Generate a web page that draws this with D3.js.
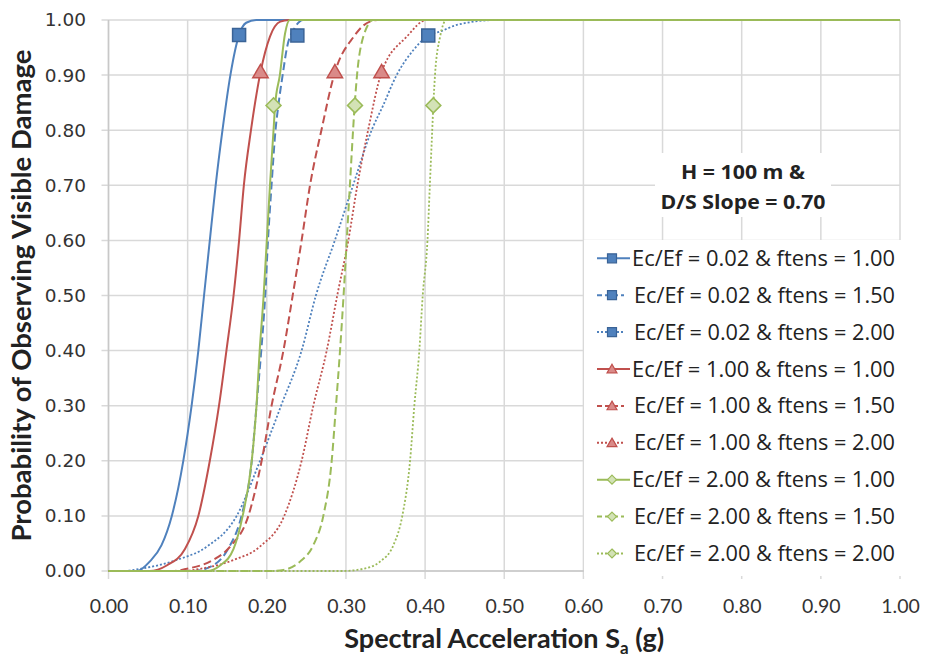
<!DOCTYPE html>
<html>
<head>
<meta charset="utf-8">
<script src="https://cdn.jsdelivr.net/npm/d3@7"></script>
<style>
  body { margin: 0; background: #fff; }
  svg { display: block; }
</style>
</head>
<body>
<svg id="chart" width="930" height="658"></svg>
<script>
// Axis ticks
const saTicks   = [0.0, 0.1, 0.2, 0.3, 0.4, 0.5, 0.6, 0.7, 0.8, 0.9, 1.0];
const probTicks = [0.0, 0.1, 0.2, 0.3, 0.4, 0.5, 0.6, 0.7, 0.8, 0.9, 1.0];

// Legend labels, in drawing order
const seriesNames = [
  "Ec/Ef = 0.02 & ftens = 1.00",
  "Ec/Ef = 0.02 & ftens = 1.50",
  "Ec/Ef = 0.02 & ftens = 2.00",
  "Ec/Ef = 1.00 & ftens = 1.00",
  "Ec/Ef = 1.00 & ftens = 1.50",
  "Ec/Ef = 1.00 & ftens = 2.00",
  "Ec/Ef = 2.00 & ftens = 1.00",
  "Ec/Ef = 2.00 & ftens = 1.50",
  "Ec/Ef = 2.00 & ftens = 2.00"
];

// Fragility curves: spectral acceleration (g) and probability of visible damage
const saE002F100 = [0, 0.036, 0.052, 0.067, 0.080, 0.0945, 0.105, 0.1135, 0.1207, 0.128, 0.1354, 0.144, 0.154, 0.165, 0.174, 0.187, 1];
const pE002F100  = [0, 0, 0.017, 0.047, 0.10, 0.20, 0.30, 0.40, 0.50, 0.60, 0.70, 0.80, 0.90, 0.973, 0.995, 1, 1];

const saE002F150 = [0, 0.107, 0.132, 0.151, 0.168, 0.181, 0.187, 0.193, 0.198, 0.2015, 0.206, 0.211, 0.2146, 0.220, 0.2255, 0.235, 0.246, 1];
const pE002F150  = [0, 0, 0.01, 0.04, 0.10, 0.20, 0.30, 0.40, 0.50, 0.60, 0.70, 0.80, 0.845, 0.90, 0.95, 0.985, 1, 1];

const saE002F200 = [0, 0.018, 0.04, 0.086, 0.124, 0.162, 0.1914, 0.218, 0.244, 0.262, 0.286, 0.309, 0.3325, 0.347, 0.364, 0.385, 0.404, 0.419, 0.44, 0.49, 1];
const pE002F200  = [0, 0, 0.004, 0.02, 0.044, 0.10, 0.20, 0.30, 0.40, 0.50, 0.60, 0.70, 0.80, 0.845, 0.90, 0.945, 0.972, 0.979, 0.991, 1, 1];

const saE100F100 = [0, 0.052, 0.0735, 0.0966, 0.1135, 0.128, 0.1396, 0.149, 0.158, 0.165, 0.171, 0.180, 0.192, 0.204, 0.217, 0.228, 1];
const pE100F100  = [0, 0, 0.01, 0.04, 0.10, 0.20, 0.30, 0.40, 0.50, 0.60, 0.70, 0.80, 0.905, 0.97, 0.997, 1, 1];

const saE100F150 = [0, 0.081, 0.099, 0.132, 0.1535, 0.1767, 0.1935, 0.206, 0.221, 0.2327, 0.244, 0.2546, 0.269, 0.286, 0.310, 0.322, 0.340, 1];
const pE100F150  = [0, 0, 0.004, 0.02, 0.044, 0.10, 0.20, 0.30, 0.40, 0.50, 0.60, 0.70, 0.80, 0.905, 0.97, 0.99, 1, 1];

const saE100F200 = [0, 0.094, 0.116, 0.158, 0.191, 0.222, 0.244, 0.2588, 0.2757, 0.289, 0.303, 0.3144, 0.328, 0.345, 0.377, 0.402, 1];
const pE100F200  = [0, 0, 0.004, 0.02, 0.044, 0.10, 0.20, 0.30, 0.40, 0.50, 0.60, 0.70, 0.80, 0.905, 0.97, 1, 1];

const saE200F100 = [0, 0.124, 0.141, 0.158, 0.1695, 0.181, 0.187, 0.191, 0.196, 0.200, 0.204, 0.2085, 0.2105, 0.2165, 0.223, 0.229, 1];
const pE200F100  = [0, 0, 0.01, 0.04, 0.10, 0.20, 0.30, 0.40, 0.50, 0.60, 0.70, 0.80, 0.845, 0.90, 0.975, 1, 1];

const saE200F150 = [0, 0.204, 0.221, 0.242, 0.2588, 0.2714, 0.282, 0.2874, 0.2925, 0.297, 0.301, 0.305, 0.309, 0.311, 0.314, 0.322, 0.3346, 1];
const pE200F150  = [0, 0, 0.002, 0.017, 0.047, 0.10, 0.20, 0.30, 0.40, 0.50, 0.60, 0.70, 0.80, 0.845, 0.90, 0.97, 1, 1];

const saE200F200 = [0, 0.296, 0.322, 0.343, 0.36, 0.3712, 0.381, 0.3864, 0.3927, 0.397, 0.403, 0.406, 0.409, 0.4104, 0.4125, 0.419, 0.427, 1];
const pE200F200  = [0, 0, 0.004, 0.017, 0.047, 0.10, 0.20, 0.30, 0.40, 0.50, 0.60, 0.70, 0.80, 0.845, 0.90, 0.97, 1, 1];

// One highlighted marker per curve
const markerSa = [0.165, 0.2386, 0.404, 0.192, 0.286, 0.345, 0.2085, 0.3114, 0.4104];
const markerP  = [0.973, 0.972, 0.972, 0.906, 0.906, 0.906, 0.845, 0.845, 0.845];

const seriesSa = [saE002F100, saE002F150, saE002F200, saE100F100, saE100F150, saE100F200, saE200F100, saE200F150, saE200F200];
const seriesP  = [pE002F100, pE002F150, pE002F200, pE100F100, pE100F150, pE100F200, pE200F100, pE200F150, pE200F200];

const annotationLines = ["H = 100 m &", "D/S Slope = 0.70"];

// ---- styling ----
const families = [
  { stroke: "#4F81BD", fill: "#4F81BD", edge: "#3A6396", shape: "square" },
  { stroke: "#C0504D", fill: "#DA8A88", edge: "#C0504D", shape: "triangle" },
  { stroke: "#9BBB59", fill: "#D3E2B6", edge: "#9BBB59", shape: "diamond" }
];
const dashes = [null, "8,4", "2,2"];
const sansFont = "Lato, 'Open Sans', sans-serif";
const legendFont = "'Open Sans', Lato, sans-serif";

const svg = d3.select("#chart");
const plot = { left: 108.5, right: 900, top: 20, bottom: 571 };

const x = d3.scaleLinear().domain([0, 1]).range([plot.left, plot.right]);
const y = d3.scaleLinear().domain([0, 1]).range([plot.bottom, plot.top]);
const fmt = d3.format(".2f");

// gridlines (extended past the axes as outside tick marks)
const grid = svg.append("g");
grid.selectAll("line.v").data(saTicks).join("line")
  .attr("x1", d => x(d)).attr("x2", d => x(d))
  .attr("y1", plot.top).attr("y2", plot.bottom + 8)
  .attr("stroke", "#D9D9D9").attr("stroke-width", 1.5);
grid.selectAll("line.h").data(probTicks).join("line")
  .attr("x1", plot.left - 7).attr("x2", plot.right)
  .attr("y1", d => y(d)).attr("y2", d => y(d))
  .attr("stroke", "#D9D9D9").attr("stroke-width", 1.5);

// axis lines
svg.append("line").attr("x1", plot.left).attr("x2", plot.left)
  .attr("y1", plot.top).attr("y2", plot.bottom).attr("stroke", "#C8C8C8").attr("stroke-width", 1.5);
svg.append("line").attr("x1", plot.left).attr("x2", plot.right)
  .attr("y1", plot.bottom).attr("y2", plot.bottom).attr("stroke", "#C8C8C8").attr("stroke-width", 1.5);

// tick labels via d3 axes
const xAxis = svg.append("g").attr("transform", `translate(0,${plot.bottom})`)
  .call(d3.axisBottom(x).tickValues(saTicks).tickFormat(fmt).tickSize(0).tickPadding(42));
const yAxis = svg.append("g").attr("transform", `translate(${plot.left},0)`)
  .call(d3.axisLeft(y).tickValues(probTicks).tickFormat(fmt).tickSize(0).tickPadding(22.5));
[xAxis, yAxis].forEach(a => a.select(".domain").remove());
xAxis.selectAll("text").attr("dy", "0").attr("fill", "#333")
  .attr("font-family", sansFont).attr("font-size", 19.5);
yAxis.selectAll("text").attr("fill", "#333")
  .attr("font-family", "'DejaVu Sans', sans-serif").attr("font-size", 18.5);

// axis titles
svg.append("text")
  .attr("x", (plot.left + plot.right) / 2).attr("y", 648)
  .attr("text-anchor", "middle")
  .attr("font-family", sansFont).attr("font-weight", 700).attr("font-size", 27).attr("fill", "#222")
  .call(t => {
    t.append("tspan").text("Spectral Acceleration S");
    t.append("tspan").text("a").attr("font-size", 17).attr("dy", 6);
    t.append("tspan").text(" (g)").attr("dy", -6);
  });
svg.append("text")
  .attr("transform", `translate(31,${(plot.top + plot.bottom) / 2}) rotate(-90)`)
  .attr("text-anchor", "middle")
  .attr("font-family", sansFont).attr("font-weight", 700).attr("font-size", 27.5).attr("fill", "#222")
  .text("Probability of Observing Visible Damage");

// marker symbols
function markerPath(shape, size) {
  const s = size / 2;
  if (shape === "square") return `M${-s},${-s}H${s}V${s}H${-s}Z`;
  if (shape === "triangle") return `M0,${-s * 1.05}L${s * 1.1},${s * 0.85}L${-s * 1.1},${s * 0.85}Z`;
  return `M0,${-s}L${s},0L0,${s}L${-s},0Z`;
}

// curves
const line = d3.line().x(d => x(d[0])).y(d => y(d[1])).curve(d3.curveMonotoneX);
const curves = svg.append("g");
seriesSa.forEach((sa, i) => {
  const fam = families[Math.floor(i / 3)];
  const dash = dashes[i % 3];
  const pts = sa.map((v, k) => [v, seriesP[i][k]]);
  curves.append("path").attr("d", line(pts))
    .attr("fill", "none").attr("stroke", fam.stroke)
    .attr("stroke-width", dash === "2,2" ? 1.8 : 2)
    .attr("stroke-dasharray", dash);
  const sz = fam.shape === "square" ? 13 : (fam.shape === "triangle" ? 14 : 15);
  curves.append("path")
    .attr("d", markerPath(fam.shape, sz))
    .attr("transform", `translate(${x(markerSa[i])},${y(markerP[i])})`)
    .attr("fill", fam.fill).attr("stroke", fam.edge).attr("stroke-width", 1.5);
});

// annotation box
const ann = svg.append("g");
ann.append("rect").attr("x", 655).attr("y", 153).attr("width", 176).attr("height", 64).attr("fill", "#fff");
annotationLines.forEach((t, k) => {
  ann.append("text").attr("x", 743).attr("y", 179 + k * 30)
    .attr("text-anchor", "middle")
    .attr("font-family", legendFont).attr("font-weight", 700).attr("font-size", 20).attr("fill", "#222")
    .attr("textLength", k === 0 ? 124 : 165).attr("lengthAdjust", "spacingAndGlyphs")
    .text(t);
});

// legend
const legend = svg.append("g");
legend.append("rect").attr("x", 584).attr("y", 240).attr("width", 324).attr("height", 336).attr("fill", "#fff");
seriesNames.forEach((name, i) => {
  const fam = families[Math.floor(i / 3)];
  const dash = dashes[i % 3];
  const cy = 258.3 + i * 36.9;
  legend.append("line").attr("x1", 597).attr("x2", i % 3 === 0 ? 630 : 624).attr("y1", cy).attr("y2", cy)
    .attr("stroke", fam.stroke).attr("stroke-width", 2)
    .attr("stroke-dasharray", dash === "8,4" ? "5,3" : dash);
  legend.append("path").attr("d", markerPath(fam.shape, 9))
    .attr("transform", `translate(612,${cy})`)
    .attr("fill", fam.fill).attr("stroke", fam.edge).attr("stroke-width", 1.2);
  legend.append("text").attr("x", i % 3 === 0 ? 632 : 634).attr("y", cy + 7.5)
    .attr("font-family", legendFont).attr("font-size", 21).attr("fill", "#222")
    .attr("textLength", i % 3 === 0 ? 263 : 261).attr("lengthAdjust", "spacingAndGlyphs")
    .text(name);
});
</script>
</body>
</html>
